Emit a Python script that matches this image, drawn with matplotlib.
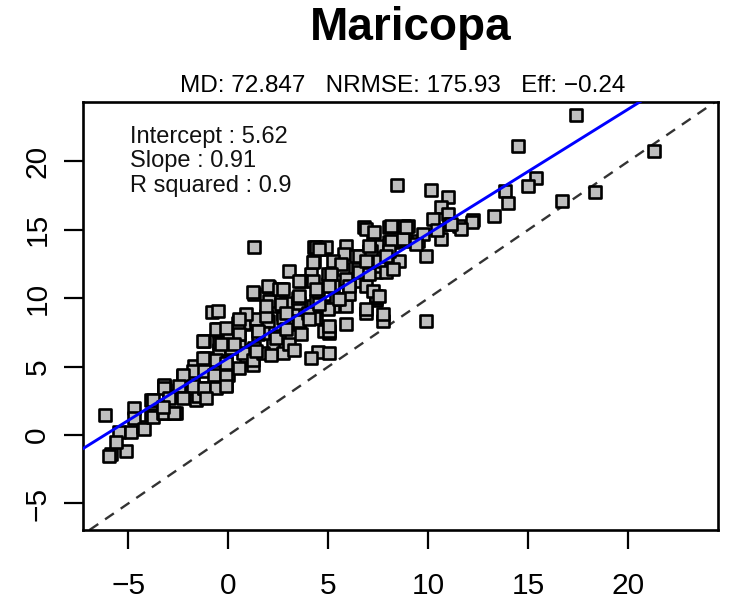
import matplotlib
matplotlib.use("Agg")
import matplotlib.pyplot as plt
import numpy as np

plt.rcParams['font.family'] = ['Liberation Sans', 'DejaVu Sans']

site = "Maricopa"
stats_line = "MD: 72.847   NRMSE: 175.93   Eff: \u22120.24"
intercept = 5.62
slope = 0.91
r_squared = 0.9

# observed (x) vs simulated (y)
observed = [
    -6.15, -5.87, -5.95, -5.12, -5.45, -5.6, -4.7, -4.87, -4.28, -4.7, -4.2,
    -3.87, -3.87, -3.78, -3.28, -3.2, -2.62, -2.7, -3.2, -3.2, -2.95, -2.45,
    -2.37, -2.28, -1.78, -1.62, -1.53, -1.7, -1.2, -1.12, -0.7, -1.2, -0.7,
    -0.45, -0.45, -0.03, -0.12, -0.12, 0.38, 0.55, 0.8, 0.55, 0.88, 1.22,
    1.22, 1.47, 1.97, 2.22, 2.55, 2.72, 3.05, 3.22, 2.72, 3.55, 2.22, 2.88,
    3.55, 4.22, 4.38, 5.22, 5.88, 5.05, 4.47, 5.05, 6.88, 7.72, 7.38, -0.8,
    -1.28, -0.45, -0.53, 0.05, 0.55, 0.8, 1.38, 1.72, 1.3, 0.72, 0.13, -0.62,
    -1.28, -1.78, -2.28, -1.2, -0.7, -0.12, -0.12, 0.55, 1.22, 1.72, -3.2,
    -2.45, -1.78, -1.2, -0.62, -0.12, -2.95, -2.28, -3.78, -1.12, -3.28,
    1.3, 4.3, 4.8, 4.3, 3.05, 4.13, 3.63, 4.97, 1.3, 2.05, 2.63, 2.05, 2.63,
    3.47, 4.38, 4.97, -0.53, 0.88, 1.88, 2.72, 3.55, 4.3, 0.47, 0.55, 1.47,
    2.38, 3.63, 4.8, -0.37, 0.3, 1.38, 2.13, 3.3, 4.13,
    6.8, 7.22, 8.8, 4.38, 4.88, 5.88, 5.8, 6.38, 7.05, 7.63, 8.22, 4.22, 5.22,
    5.72, 6.47, 7.13, 3.55, 4.22, 4.97, 5.22, 5.88, 6.63, 7.38, 8.55, 1.22,
    1.97, 2.55, 3.55, 4.47, 5.38, 6.05, 6.88, 7.38, 0.55, 1.88, 2.88, 3.97,
    4.97, -0.62, -0.12, 2.88, 5.05,
    8.05, 4.55, 6.55, 7.13, 8.05, 5.63, 6.55, 7.38, 2.72, 4.38, 5.13, 5.05,
    6.05, 7.38, 4.55, 5.55, 6.88, 7.72, 4.05, 5.05, 5.88,
    8.45, 10.13, 10.97, 10.63, 10.97, 10.22, 11.05, 12.22, 11.55, 10.63, 9.88,
    8.97, 8.13, 6.88, 7.3, 8.13, 8.88, 9.47, 9.72, 7.05, 8.05, 7.55, 6.88,
    7.05, 7.88, 7.22,
    14.5, 17.4, 21.3, 18.35, 16.68, 15.38, 14.97, 13.85, 13.97, 13.3, 12.18,
    9.88, 7.55, 9.38, 7.88, 8.22, 8.72, 8.88, 10.43, 11.63, 11.13,
]
simulated = [
    1.45, -1.35, -1.55, -1.2, 0.25, -0.5, 1.96, 0.25, 0.61, 1.23, 0.42,
    2.57, 1.47, 1.35, 1.6, 1.6, 1.6, 1.6, 3.55, 3.68, 2.82, 3.31,
    3.18, 4.29, 4.29, 2.57, 2.82, 5.02, 3.43, 5.64, 5.51, 6.86, 4.65,
    6.25, 7.6, 4.41, 5.39, 3.68, 7.35, 8.33, 8.09, 6.49, 5.76, 5.15,
    6.25, 7.35, 8.33, 6.62, 7.23, 6.0, 6.62, 8.82, 8.82, 8.09, 9.43, 9.68,
    9.68, 9.43, 8.58, 9.43, 9.43, 7.48, 6.05, 6.0, 8.95, 8.33, 9.9, 9.0,
    6.86, 6.74, 7.72, 7.48, 7.48, 8.21, 8.46, 7.48, 6.37, 6.0, 6.37, 5.51,
    5.64, 4.65, 4.41, 4.65, 4.41, 4.29, 5.27, 4.9, 5.51, 6.0, 3.43,
    3.55, 3.55, 3.43, 3.43, 3.55, 2.7, 2.7, 2.57, 2.7, 2.08,
    13.73, 13.73, 13.6, 12.74, 12.0, 11.76, 11.27, 11.03, 10.29, 10.79, 10.66,
    9.8, 9.56, 10.05, 9.8, 9.32, 9.07, 8.82, 8.7, 8.58, 8.33, 8.58, 8.21,
    7.35, 7.6, 7.11, 7.35, 7.6, 6.62, 6.62, 6.12, 5.88, 6.25, 5.64,
    15.2, 14.58, 15.3, 13.73, 13.73, 13.85, 13.24, 13.11, 13.48, 13.85, 14.1,
    12.62, 12.74, 12.13, 12.13, 12.13, 11.27, 11.27, 11.76, 10.9, 11.4, 11.27,
    11.89, 12.74, 10.42, 10.9, 10.66, 10.17, 10.54, 9.93, 10.29, 10.9, 10.05,
    8.46, 9.43, 8.95, 8.95, 9.19, 7.72, 7.84, 7.72, 7.6,
    15.2, 13.6, 13.11, 13.48, 14.1, 12.5, 11.89, 12.38, 10.66, 10.66, 11.76,
    10.9, 10.9, 10.17, 9.56, 9.93, 9.19, 8.82, 8.46, 7.96, 8.09,
    18.26, 17.89, 17.4, 16.67, 16.18, 15.8, 15.44, 15.68, 15.3, 14.34, 13.11,
    15.3, 15.3, 15.07, 14.83, 14.21, 14.21, 14.21, 14.7, 13.85, 13.48, 12.74,
    12.74, 11.76, 11.89, 10.54,
    21.1, 23.4, 20.76, 17.77, 17.08, 18.75, 18.21, 17.82, 16.99, 16.0, 15.6,
    8.33, 10.17, 13.97, 13.11, 12.13, 14.34, 15.2, 14.95, 15.07, 15.44,
]

ticks = [-5, 0, 5, 10, 15, 20]

fig = plt.figure(figsize=(7.3, 6.06), dpi=100)
ax = fig.add_axes([0.1141, 0.1254, 0.8699, 0.7068])

ax.scatter(observed, simulated, marker='s', s=82, facecolor='#BEBEBE',
           edgecolor='black', linewidth=1.9, zorder=3)

# 1:1 reference line and fitted regression line
ax.axline((0, 0), slope=1, color='#333333', lw=1.7, dashes=(4.5, 3.5), zorder=2)
ax.axline((0, intercept), slope=slope, color='#0000FF', lw=2.1, zorder=4)

ax.set_xlim(-7.25, 24.5)
ax.set_ylim(-6.94, 24.36)
ax.set_xticks(ticks)
ax.set_yticks(ticks)
ax.set_xticklabels(['\u22125' if t < 0 else str(t) for t in ticks])
ax.set_yticklabels(['\u22125' if t < 0 else str(t) for t in ticks],
                   rotation=90, va='center')
ax.tick_params(axis='both', length=14, width=1.6, labelsize=21.5, direction='out')
ax.tick_params(axis='x', pad=16)
ax.tick_params(axis='y', pad=9)
for sp in ax.spines.values():
    sp.set_linewidth(1.9)

labels = [f"Intercept : {intercept}", f"Slope : {slope}", f"R squared : {r_squared}"]
for lab, yy in zip(labels, [0.9176, 0.8615, 0.8032]):
    ax.text(0.0735, yy, lab, transform=ax.transAxes, fontsize=17,
            ha='left', va='center', color='#111111')

fig.text(0.563, 0.954, site, fontsize=33, fontweight='bold', ha='center', va='center')
fig.text(0.551, 0.858, stats_line, fontsize=17.5, ha='center', va='center')

fig.savefig("out.png", dpi=100)
